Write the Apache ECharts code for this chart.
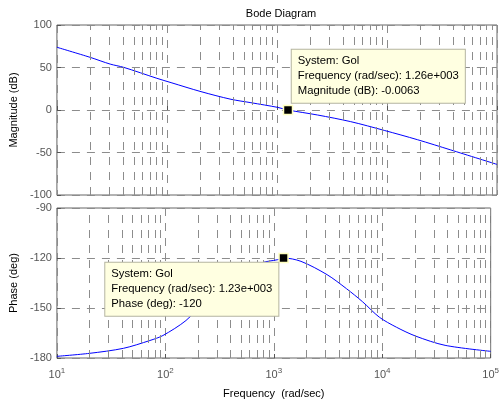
<!DOCTYPE html>
<html>
<head>
<meta charset="utf-8">
<script src="https://cdn.jsdelivr.net/npm/echarts@6/dist/echarts.min.js"></script>
<style>html,body{margin:0;padding:0;background:#fff;}#c{width:502px;height:405px;}</style>
</head>
<body>
<div id="c"></div>
<script>
// ---- data ----
var magFreq = [10, 20, 30.5, 40.4, 81, 109, 204, 382, 580, 1014, 1260, 2340, 4680, 9440, 19000, 38000, 100000];
var magDb   = [73.8, 62, 54, 50.2, 37.3, 32.2, 21.6, 12.6, 8.6, 3.1, -0.0063, -5.9, -13.7, -24, -35, -47, -64];
var phFreq  = [10, 20, 41, 72, 95, 155, 230, 320, 490, 768, 1088, 1230, 1780, 3100, 4680, 6600, 9400, 13500, 20400, 38000, 100000];
var phDeg   = [-179, -177.2, -174.2, -169.5, -166.5, -157.5, -146, -138.4, -130, -123, -121, -120, -122, -130, -138.4, -146.3, -155.5, -161.5, -166.9, -172.4, -176];
var minorFreqs = [20,30,40,50,60,70,80,90,200,300,400,500,600,700,800,900,2000,3000,4000,5000,6000,7000,8000,9000,20000,30000,40000,50000,60000,70000,80000,90000];
var magTicks = [-100, 100, 50];   // min, max, interval
var phTicks  = [-180, -90, 30];
var tipMag   = {freq: 1260, val: -0.0063, lines: ['System: Gol', 'Frequency (rad/sec): 1.26e+003', 'Magnitude (dB): -0.0063']};
var tipPh    = {freq: 1230, val: -120, lines: ['System: Gol', 'Frequency (rad/sec): 1.23e+003', 'Phase (deg): -120']};

var FONT = '"Liberation Sans", Arial, sans-serif';
var gridDash = {color: '#8c8c8c', width: 1, type: [8, 7]};

function zip(a, b) { return a.map(function (v, i) { return [v, b[i]]; }); }

function xAxisDef(idx, showLabels) {
  return {
    type: 'log', logBase: 10, gridIndex: idx, min: 10, max: 100000,
    axisLine: {show: false},
    axisTick: {show: true, inside: true, length: 4, lineStyle: {color: '#555'}},
    splitLine: {show: true, lineStyle: gridDash},
    axisLabel: {
      show: showLabels, margin: 9, color: '#555', fontFamily: FONT,
      formatter: function (v) { return '{b|10}{s|' + Math.round(Math.log10(v)) + '}'; },
      rich: {
        b: {fontSize: 11, color: '#555', fontFamily: FONT},
        s: {fontSize: 8, color: '#555', fontFamily: FONT, padding: [0, 0, 8, 0]}
      }
    },
    name: showLabels ? 'Frequency  (rad/sec)' : '',
    nameLocation: 'middle', nameGap: 30,
    nameTextStyle: {fontSize: 11, color: '#000', fontFamily: FONT}
  };
}

function yAxisDef(idx, t, name) {
  return {
    type: 'value', gridIndex: idx, min: t[0], max: t[1], interval: t[2],
    axisLine: {show: false},
    axisTick: {show: true, inside: true, length: 4, lineStyle: {color: '#555'}},
    splitLine: {show: true, lineStyle: gridDash},
    axisLabel: {margin: 5, color: '#555', fontSize: 11, fontFamily: FONT},
    name: name, nameLocation: 'middle', nameGap: 34,
    nameTextStyle: {fontSize: 11, color: '#000', fontFamily: FONT}
  };
}

function minorSeries(idx) {
  return {
    type: 'line', xAxisIndex: idx, yAxisIndex: idx, data: [], z: 1, silent: true,
    markLine: {
      silent: true, symbol: ['none', 'none'], animation: false,
      label: {show: false},
      lineStyle: gridDash,
      data: minorFreqs.map(function (f) { return {xAxis: f}; })
    }
  };
}

function tipLabel(tip, pos) {
  return {
    show: true, position: pos, align: 'left', verticalAlign: 'top',
    formatter: tip.lines.join('\n'),
    backgroundColor: '#ffffe1', borderColor: '#b4b4a0', borderWidth: 1,
    padding: [4, 6, 4, 6], lineHeight: 15, fontSize: 11.3, color: '#000', fontFamily: FONT
  };
}

function curve(idx, data, tip, pos) {
  return {
    type: 'line', xAxisIndex: idx, yAxisIndex: idx, data: data, z: 3,
    showSymbol: false, smooth: 0.3, animation: false,
    lineStyle: {color: '#0000ff', width: 1},
    markPoint: {
      animation: false,
      symbol: 'rect', symbolSize: 9,
      itemStyle: {color: '#000', borderColor: '#ffffc0', borderWidth: 1.5},
      label: tipLabel(tip, pos),
      data: [{coord: [tip.freq, tip.val]}]
    }
  };
}

var chart = echarts.init(document.getElementById('c'), null, {renderer: 'canvas'});
chart.setOption({
  backgroundColor: '#fff',
  animation: false,
  title: {
    text: 'Bode Diagram', left: 276, top: 3, textAlign: 'center',
    textStyle: {fontSize: 11, fontWeight: 'normal', color: '#000', fontFamily: FONT}
  },
  grid: [
    {left: 56, top: 25, width: 441, height: 170, show: true, borderColor: '#666', borderWidth: 1, backgroundColor: 'transparent'},
    {left: 56, top: 208, width: 441, height: 150, show: true, borderColor: '#666', borderWidth: 1, backgroundColor: 'transparent'}
  ],
  xAxis: [xAxisDef(0, false), xAxisDef(1, true)],
  yAxis: [yAxisDef(0, magTicks, 'Magnitude (dB)'), yAxisDef(1, phTicks, 'Phase (deg)')],
  series: [
    minorSeries(0),
    minorSeries(1),
    curve(0, zip(magFreq, magDb), tipMag, [9, -55]),
    curve(1, zip(phFreq, phDeg), tipPh, [-173, 10])
  ]
});
</script>
</body>
</html>
